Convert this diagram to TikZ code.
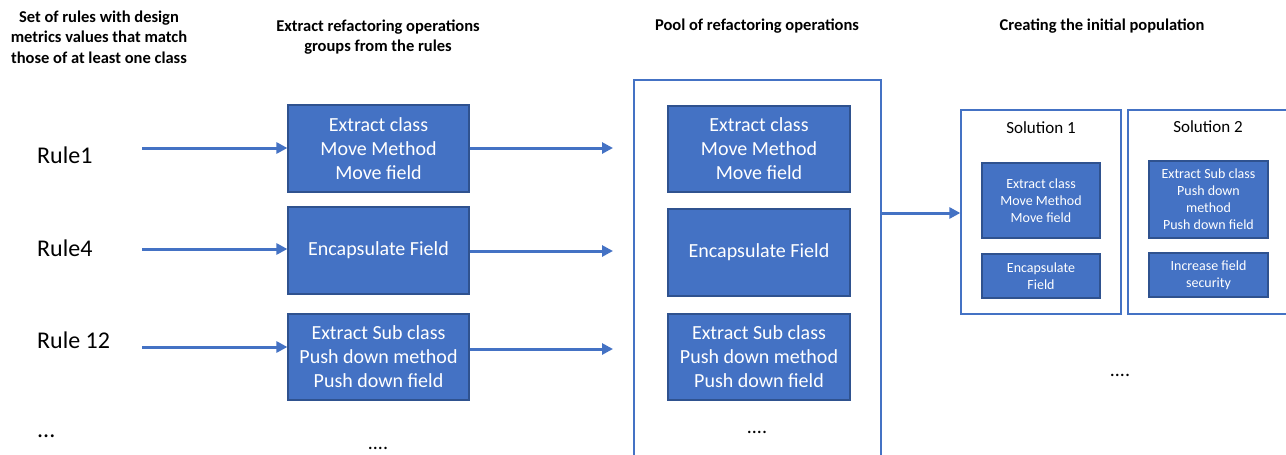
\documentclass[tikz,border=0pt]{standalone}
\usepackage{fontspec}
\setmainfont{Carlito}
\usetikzlibrary{arrows.meta}
\definecolor{opblue}{HTML}{4472C4}
\definecolor{opedge}{HTML}{2F528F}
\tikzset{
  opbox/.style={draw=opedge, line width=1.2pt, fill=opblue, text=white, align=center, inner sep=0pt},
  bigtext/.style={font=\fontsize{20}{24}\selectfont},
  smalltext/.style={font=\fontsize{14}{17}\selectfont},
  heading/.style={font=\bfseries\fontsize{16.5}{20.5}\selectfont, align=center},
  rulelabel/.style={font=\fontsize{24}{28}\selectfont, anchor=west, inner sep=0pt},
  frame/.style={draw=opblue, line width=1.3pt},
  flow/.style={draw=opblue, line width=3pt, -{Triangle[length=11pt,width=11pt]}},
  dots/.style={font=\fontsize{20}{24}\selectfont, inner sep=0pt}
}
\begin{document}
\begin{tikzpicture}[x=1pt,y=-1pt]
\useasboundingbox (0,0) rectangle (1286,455);

% column headings
\node[heading] (h1) at (99,37) {Set of rules with design\\metrics values that match\\those of at least one class};
\node[heading] (h2) at (378,37) {Extract refactoring operations\\groups from the rules};
\node[heading] (h3) at (757,26) {Pool of refactoring operations};
\node[heading] (h4) at (1102,26) {Creating the initial population};

% rules
\node[rulelabel] (r1) at (37,155) {Rule1};
\node[rulelabel] (r4) at (37,248) {Rule4};
\node[rulelabel] (r12) at (37,340) {Rule 12};
\node[rulelabel] (rdots) at (37,436) {...};

% extracted groups
\node[opbox, bigtext, minimum width=181pt, minimum height=87pt] (g1) at (378.5,148.5) {Extract class\\Move Method\\Move field};
\node[opbox, bigtext, minimum width=181pt, minimum height=87pt] (g2) at (378.5,250.5) {Encapsulate Field};
\node[opbox, bigtext, minimum width=181pt, minimum height=86pt] (g3) at (378.5,357) {Extract Sub class\\Push down method\\Push down field};
\node[dots] (gdots) at (378,448) {....};

% arrows rule -> group
\coordinate (a1) at (142,148);
\coordinate (a4) at (142,249);
\coordinate (a12) at (142,347);
\draw[flow] (a1) -- (a1 -| g1.west);
\draw[flow] (a4) -- (a4 -| g2.west);
\draw[flow] (a12) -- (a12 -| g3.west);

% arrows group -> pool
\coordinate (b1) at (613,148);
\coordinate (b2) at (613,251);
\coordinate (b3) at (613,349);
\draw[flow] (b1 -| g1.east) -- (b1);
\draw[flow] (b2 -| g2.east) -- (b2);
\draw[flow] (b3 -| g3.east) -- (b3);

% pool of operations (open at the bottom edge of the page)
\draw[frame] (634,456) -- (634,80) -- (881,80) -- (881,456);
\coordinate (pool) at (881,213);
\node[opbox, bigtext, minimum width=182pt, minimum height=86pt] (p1) at (759,149) {Extract class\\Move Method\\Move field};
\node[opbox, bigtext, minimum width=182pt, minimum height=87pt] (p2) at (759,252.5) {Encapsulate Field};
\node[opbox, bigtext, minimum width=182pt, minimum height=86pt] (p3) at (759,357) {Extract Sub class\\Push down method\\Push down field};
\node[dots] (pdots) at (757,432) {....};

% initial population
\node[frame, minimum width=160pt, minimum height=204pt, inner sep=0pt] (s1) at (1041,212) {};
\draw[frame] (1290,110) -- (1128,110) -- (1128,314) -- (1290,314);
\node[font=\fontsize{17}{20}\selectfont, inner sep=0pt] (s1t) at (1041,128) {Solution 1};
\node[font=\fontsize{17}{20}\selectfont, inner sep=0pt] (s2t) at (1208,127) {Solution 2};
\node[opbox, smalltext, minimum width=118pt, minimum height=75pt] (s1a) at (1041,200.5) {Extract class\\Move Method\\Move field};
\node[opbox, smalltext, minimum width=118pt, minimum height=44pt] (s1b) at (1041,276) {Encapsulate\\Field};
\node[opbox, smalltext, minimum width=119pt, minimum height=77pt] (s2a) at (1208.5,199.5) {Extract Sub class\\Push down\\method\\Push down field};
\node[opbox, smalltext, minimum width=119pt, minimum height=44pt] (s2b) at (1208.5,275) {Increase field\\security};
\node[dots] (sdots) at (1120,375) {....};

\draw[flow] (pool) -- (pool -| s1.west);
\end{tikzpicture}
\end{document}
